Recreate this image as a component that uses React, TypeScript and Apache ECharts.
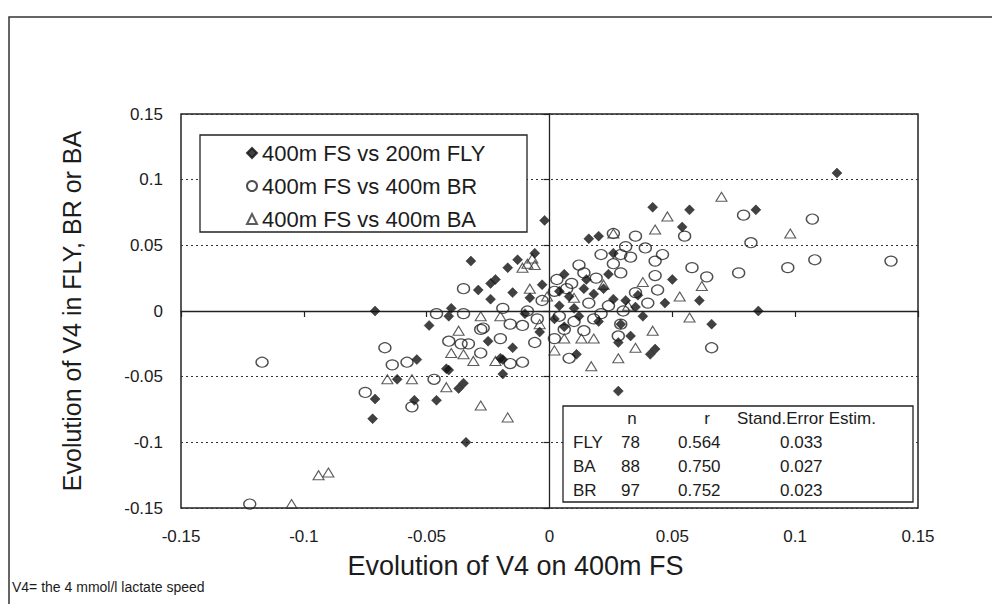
import React, { useEffect, useRef } from "react";
import * as echarts from "echarts";

// Series: [evolution of V4 on 400m FS, evolution of V4 in other stroke]
const flyPoints: number[][] = [
  [0.117, 0.105], [0.042, 0.079], [0.057, 0.077], [0.084, 0.077], [0.054, 0.064], [0.020, 0.057],
  [0.016, 0.055], [0.026, 0.044], [0.024, 0.028], [0.050, 0.024], [0.061, 0.008], [0.047, 0.006],
  [0.066, -0.010], [0.043, -0.029], [0.041, -0.033], [0.028, -0.061], [0.028, -0.024], [0.033, -0.019],
  [0.085, 0.0], [0.011, -0.033], [0.020, -0.008],
  [-0.071, 0.0], [-0.054, -0.037], [-0.062, -0.052], [-0.071, -0.067], [-0.072, -0.082], [-0.055, -0.068],
  [-0.046, -0.068], [-0.041, -0.045], [-0.035, -0.055], [-0.037, -0.059], [-0.034, -0.100], [-0.019, -0.048],
  [-0.019, -0.037], [-0.015, -0.028], [-0.025, -0.023], [-0.020, -0.036], [-0.040, 0.002], [-0.049, -0.011],
  [-0.032, 0.038], [-0.002, 0.069], [-0.006, 0.044], [-0.013, 0.039], [-0.017, 0.033], [-0.022, 0.024],
  [-0.024, 0.021], [-0.029, 0.016], [-0.024, 0.009], [-0.015, 0.014], [-0.008, 0.010], [-0.041, -0.004],
  [-0.042, -0.044],
  [0.004, 0.015], [0.008, 0.011], [0.014, 0.017], [0.018, 0.013], [0.022, 0.017], [0.026, 0.009],
  [0.031, 0.008], [0.004, 0.004], [0.010, 0.002], [0.002, -0.006], [0.006, -0.012], [0.029, -0.010],
  [0.012, -0.004], [0.035, 0.003], [0.038, -0.004], [-0.004, -0.016], [-0.010, -0.002], [0.015, 0.024],
  [-0.003, 0.020], [0.006, 0.028], [0.036, 0.012]
];

const brPoints: number[][] = [
  [-0.117, -0.039], [-0.122, -0.147], [-0.067, -0.028], [-0.064, -0.041], [-0.058, -0.039], [-0.075, -0.062],
  [-0.056, -0.073], [-0.047, -0.052], [-0.035, -0.002], [-0.046, -0.002], [-0.041, -0.023], [-0.036, -0.025],
  [-0.033, -0.025], [-0.028, -0.032], [-0.027, -0.013], [-0.016, -0.040], [-0.011, -0.039], [-0.020, -0.021],
  [-0.035, 0.017], [-0.028, -0.014], [-0.019, 0.002], [-0.009, 0.0], [-0.005, -0.006], [-0.006, -0.024],
  [-0.011, -0.011], [-0.016, -0.010],
  [0.026, 0.059], [0.035, 0.057], [0.039, 0.048], [0.031, 0.049], [0.021, 0.043], [0.029, 0.043],
  [0.033, 0.041], [0.026, 0.036], [0.046, 0.043], [0.043, 0.038], [0.043, 0.027], [0.029, 0.029],
  [0.003, 0.024], [0.009, 0.021], [0.014, 0.029], [0.019, 0.025], [0.002, 0.015], [0.007, 0.017],
  [0.035, 0.014], [0.040, 0.006],
  [0.079, 0.073], [0.107, 0.070], [0.055, 0.057], [0.082, 0.052], [0.058, 0.033], [0.064, 0.026],
  [0.077, 0.029], [0.097, 0.033], [0.108, 0.039], [0.139, 0.038],
  [0.008, -0.036], [0.029, -0.010], [0.028, -0.019], [0.066, -0.028], [0.004, -0.004], [0.010, -0.008],
  [0.006, -0.014], [0.014, -0.015], [0.018, -0.006], [0.002, -0.021], [0.024, 0.004], [0.016, 0.006],
  [-0.003, 0.008], [0.021, -0.002], [0.030, 0.000], [0.012, 0.035], [0.044, 0.016]
];

const baPoints: number[][] = [
  [-0.105, -0.147], [-0.094, -0.125], [-0.090, -0.123], [-0.066, -0.052], [-0.056, -0.052], [-0.042, -0.058],
  [-0.028, -0.072], [-0.017, -0.081], [-0.037, -0.015], [-0.040, -0.032], [-0.035, -0.033], [-0.031, -0.038],
  [-0.028, -0.004], [-0.022, -0.038], [-0.011, 0.033], [-0.009, 0.036], [-0.006, 0.035], [-0.007, 0.040],
  [-0.008, 0.017], [-0.001, 0.011],
  [0.070, 0.087], [0.098, 0.059], [0.048, 0.072], [0.043, 0.062], [0.062, 0.019], [0.053, 0.011],
  [0.026, 0.059], [0.042, -0.015], [0.028, -0.036], [0.017, -0.042], [0.018, -0.021], [0.013, -0.021],
  [0.006, -0.021], [0.057, -0.005],
  [0.022, 0.020], [0.032, 0.004], [-0.004, -0.010], [0.010, 0.010], [0.038, 0.022], [-0.020, -0.004],
  [0.002, -0.030], [0.035, -0.028]
];

const seriesNames = ["400m FS vs 200m FLY", "400m FS vs 400m BR", "400m FS vs 400m BA"];

const statHeaders = ["n", "r", "Stand.Error Estim."];
const statRows = ["FLY", "BA", "BR"];
const statN = ["78", "88", "97"];
const statR = ["0.564", "0.750", "0.752"];
const statSE = ["0.033", "0.027", "0.023"];

const axisMin = -0.15;
const axisMax = 0.15;
const axisStep = 0.05;

const xTitle = "Evolution of V4 on 400m FS";
const yTitle = "Evolution of V4 in FLY, BR or BA";
const footnote = "V4= the 4 mmol/l lactate speed";

const FONT = "'Liberation Sans', Arial, sans-serif";
const INK = "#1c1c1c";

export default function App() {
  const ref = useRef<HTMLDivElement>(null);

  useEffect(() => {
    if (!ref.current) return;
    const chart = echarts.init(ref.current, null, { renderer: "svg" });

    const tableText: any[] = [];
    const colX = [632, 707, 737];
    statHeaders.forEach((h, i) => {
      tableText.push({
        type: "text",
        x: colX[i],
        y: 418,
        z: 20,
        silent: true,
        style: { text: h, font: `17px ${FONT}`, fill: INK, textAlign: i === 2 ? "left" : "center", textVerticalAlign: "middle" },
      });
    });
    statRows.forEach((r, i) => {
      const y = 442 + i * 24;
      const cells = [
        { t: r, x: 573 },
        { t: statN[i], x: 621 },
        { t: statR[i], x: 678 },
        { t: statSE[i], x: 780 },
      ];
      cells.forEach((c) => {
        tableText.push({
          type: "text",
          x: c.x,
          y,
          z: 20,
          silent: true,
          style: { text: c.t, font: `17px ${FONT}`, fill: INK, textAlign: "left", textVerticalAlign: "middle" },
        });
      });
    });

    const option: any = {
      animation: false,
      backgroundColor: "#ffffff",
      textStyle: { fontFamily: FONT, color: INK },
      grid: {
        left: 181,
        right: 74,
        top: 114,
        bottom: 96,
        show: true,
        borderColor: "#222",
        borderWidth: 1.5,
        backgroundColor: "transparent",
      },
      legend: {
        orient: "vertical",
        left: 246,
        top: 142,
        padding: 0,
        itemWidth: 10,
        itemHeight: 10,
        itemGap: 11,
        selectedMode: false,
        textStyle: { fontFamily: FONT, fontSize: 22, color: INK, lineHeight: 21 },
        data: seriesNames,
      },
      xAxis: [
        {
          type: "value",
          min: axisMin,
          max: axisMax,
          interval: axisStep,
          position: "bottom",
          axisLine: { show: false, onZero: false },
          axisTick: { show: false },
          splitLine: { show: false },
          axisLabel: { fontFamily: FONT, fontSize: 17, color: INK, margin: 20 },
          name: xTitle,
          nameLocation: "middle",
          nameGap: 44,
          nameTextStyle: { fontFamily: FONT, fontSize: 27, color: INK, padding: [0, 68, 0, 0] },
        },
        {
          type: "value",
          min: axisMin,
          max: axisMax,
          interval: axisStep,
          position: "top",
          axisLine: { show: true, onZero: true, lineStyle: { color: "#222", width: 1.3 } },
          axisTick: { show: true, inside: true, length: 6, lineStyle: { color: "#222", width: 1.2 } },
          axisLabel: { show: false },
          splitLine: { show: false },
        },
      ],
      yAxis: [
        {
          type: "value",
          min: axisMin,
          max: axisMax,
          interval: axisStep,
          position: "left",
          axisLine: { show: false, onZero: false },
          axisTick: { show: false },
          splitLine: { show: true, lineStyle: { color: "#333", type: [2, 3], width: 1.2 } },
          axisLabel: { fontFamily: FONT, fontSize: 17, color: INK, margin: 18 },
          name: yTitle,
          nameLocation: "middle",
          nameGap: 97,
          nameTextStyle: { fontFamily: FONT, fontSize: 25, color: INK },
        },
        {
          type: "value",
          min: axisMin,
          max: axisMax,
          interval: axisStep,
          position: "right",
          axisLine: { show: true, onZero: true, lineStyle: { color: "#222", width: 1.3 } },
          axisTick: { show: true, inside: true, length: 6, lineStyle: { color: "#222", width: 1.2 } },
          axisLabel: { show: false },
          splitLine: { show: false },
        },
      ],
      series: [
        {
          name: seriesNames[0],
          type: "scatter",
          symbol: "diamond",
          symbolSize: [10, 10],
          itemStyle: { color: "#111", borderColor: "#111", borderWidth: 0.5 },
          data: flyPoints,
          z: 3,
        },
        {
          name: seriesNames[1],
          type: "scatter",
          symbol: "circle",
          symbolSize: [12, 10],
          itemStyle: { color: "rgba(255,255,255,0)", borderColor: "#222", borderWidth: 1.3 },
          data: brPoints,
          z: 2,
        },
        {
          name: seriesNames[2],
          type: "scatter",
          symbol: "triangle",
          symbolSize: [11, 9],
          itemStyle: { color: "rgba(255,255,255,0)", borderColor: "#333", borderWidth: 1.1 },
          data: baPoints,
          z: 2,
        },
      ],
      graphic: [
        {
          type: "rect",
          shape: { x: 9, y: 17, width: 990, height: 620 },
          style: { fill: "none", stroke: "#333", lineWidth: 1.5 },
          z: -10,
          silent: true,
        },
        {
          type: "rect",
          shape: { x: 200, y: 135, width: 327, height: 97 },
          style: { fill: "#fff", stroke: "#222", lineWidth: 1.3 },
          z: 1,
          silent: true,
        },
        {
          type: "rect",
          shape: { x: 563, y: 406, width: 350, height: 96 },
          style: { fill: "#fff", stroke: "#222", lineWidth: 1.3 },
          z: 10,
          silent: true,
        },
        ...tableText,
        {
          type: "text",
          x: 12,
          y: 587,
          z: 10,
          style: { text: footnote, font: `14px ${FONT}`, fill: INK, textAlign: "left", textVerticalAlign: "middle" },
        },
      ],
    };

    chart.setOption(option);
    return () => chart.dispose();
  }, []);

  return (
    <div
      ref={ref}
      style={{ position: "fixed", left: 0, top: 0, width: 992, height: 604, background: "#fff" }}
    />
  );
}
